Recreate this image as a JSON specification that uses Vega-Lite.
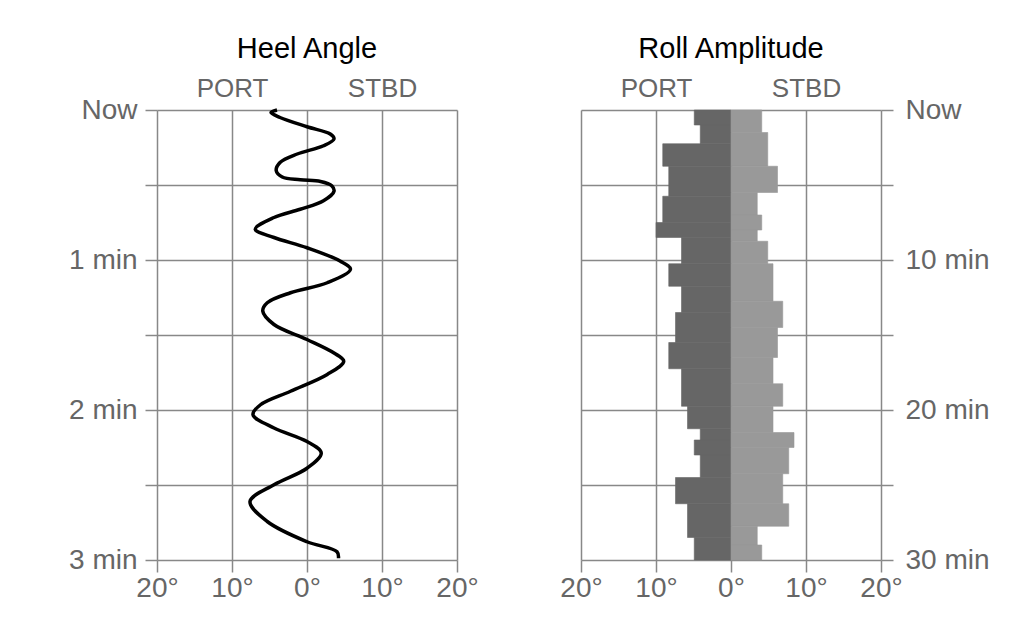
{
  "$schema": "https://vega.github.io/schema/vega-lite/v6.json",
  "background": "white",
  "padding": {"left": 68, "top": 35, "right": 10, "bottom": 10},
  "bounds": "flush",
  "spacing": 124,
  "datasets": {
    "heel": [
      {"t": 0, "angle": -4.0}, {"t": 1, "angle": -4.8}, {"t": 3, "angle": -3.6}, {"t": 6.7, "angle": 0},
      {"t": 9.6, "angle": 3.1}, {"t": 11.6, "angle": 3.6}, {"t": 14.3, "angle": 2.2}, {"t": 17.6, "angle": -1.3},
      {"t": 21, "angle": -3.6}, {"t": 24.3, "angle": -4.1}, {"t": 26.8, "angle": -3.3}, {"t": 27.9, "angle": -0.9},
      {"t": 28.6, "angle": 1.8}, {"t": 30.3, "angle": 3.3}, {"t": 32.5, "angle": 3.6}, {"t": 36.3, "angle": 2.2},
      {"t": 39.7, "angle": -0.9}, {"t": 43, "angle": -4.4}, {"t": 47.7, "angle": -6.9}, {"t": 51, "angle": -4.4},
      {"t": 55.1, "angle": 0}, {"t": 60.4, "angle": 4.4}, {"t": 63.7, "angle": 5.8}, {"t": 69.1, "angle": 2.7},
      {"t": 73.1, "angle": -2.2}, {"t": 77.1, "angle": -5.3}, {"t": 80.4, "angle": -5.9}, {"t": 85.8, "angle": -4.4},
      {"t": 91.8, "angle": 0}, {"t": 97.2, "angle": 3.6}, {"t": 100.5, "angle": 4.9}, {"t": 105.8, "angle": 2.7},
      {"t": 112.5, "angle": -2.2}, {"t": 117.9, "angle": -6.2}, {"t": 121.9, "angle": -7.2}, {"t": 127.2, "angle": -4.4},
      {"t": 132.6, "angle": 0}, {"t": 137.2, "angle": 1.9}, {"t": 143.3, "angle": 0}, {"t": 149.9, "angle": -4.4},
      {"t": 156.6, "angle": -7.6}, {"t": 164.6, "angle": -5.3}, {"t": 172.7, "angle": 0}, {"t": 176.7, "angle": 4.0},
      {"t": 179.3, "angle": 4.2}
    ],
    "port": [
      {"from": 0, "to": 1, "angle": -4.9}, {"from": 1, "to": 2.25, "angle": -4.1},
      {"from": 2.25, "to": 3.75, "angle": -9.1}, {"from": 3.75, "to": 5.75, "angle": -8.3},
      {"from": 5.75, "to": 7.5, "angle": -9.1}, {"from": 7.5, "to": 8.5, "angle": -10.0},
      {"from": 8.5, "to": 10.25, "angle": -6.6}, {"from": 10.25, "to": 11.75, "angle": -8.3},
      {"from": 11.75, "to": 13.5, "angle": -6.6}, {"from": 13.5, "to": 15.5, "angle": -7.4},
      {"from": 15.5, "to": 17.25, "angle": -8.3}, {"from": 17.25, "to": 19.75, "angle": -6.6},
      {"from": 19.75, "to": 21.25, "angle": -5.8}, {"from": 21.25, "to": 22, "angle": -4.1},
      {"from": 22, "to": 23, "angle": -4.9}, {"from": 23, "to": 24.5, "angle": -4.1},
      {"from": 24.5, "to": 26.25, "angle": -7.4}, {"from": 26.25, "to": 28.5, "angle": -5.8},
      {"from": 28.5, "to": 30, "angle": -4.9}
    ],
    "stbd": [
      {"from": 0, "to": 1.5, "angle": 4.1}, {"from": 1.5, "to": 3.75, "angle": 4.9},
      {"from": 3.75, "to": 5.5, "angle": 6.2}, {"from": 5.5, "to": 7, "angle": 3.5},
      {"from": 7, "to": 8, "angle": 4.1}, {"from": 8, "to": 8.75, "angle": 3.5},
      {"from": 8.75, "to": 10.25, "angle": 4.9}, {"from": 10.25, "to": 12.75, "angle": 5.6},
      {"from": 12.75, "to": 14.5, "angle": 6.9}, {"from": 14.5, "to": 16.5, "angle": 6.2},
      {"from": 16.5, "to": 18.25, "angle": 5.6}, {"from": 18.25, "to": 19.75, "angle": 6.9},
      {"from": 19.75, "to": 21.5, "angle": 5.6}, {"from": 21.5, "to": 22.5, "angle": 8.4},
      {"from": 22.5, "to": 24.25, "angle": 7.7}, {"from": 24.25, "to": 26.25, "angle": 6.9},
      {"from": 26.25, "to": 27.75, "angle": 7.7}, {"from": 27.75, "to": 29, "angle": 3.5},
      {"from": 29, "to": 30, "angle": 4.1}
    ]
  },
  "config": {
    "view": {"stroke": null},
    "font": "Liberation Sans",
    "axis": {
      "labelFont": "Liberation Sans",
      "labelFontSize": 28,
      "labelColor": "#666666",
      "gridColor": "#888888",
      "gridWidth": 1.5,
      "tickColor": "#888888",
      "tickWidth": 1.5,
      "tickSize": 12,
      "domain": false,
      "title": null,
      "labelFlush": false,
      "labelOverlap": false
    },
    "title": {"font": "Liberation Sans", "fontSize": 29, "fontWeight": "normal", "color": "black", "anchor": "middle", "offset": 11}
  },
  "hconcat": [
    {
      "width": 300,
      "height": 450,
      "title": "Heel Angle",
      "data": {"name": "heel"},
      "encoding": {
        "y": {
          "field": "t", "type": "quantitative",
          "scale": {"domain": [0, 180], "reverse": true, "nice": false, "zero": false},
          "axis": {"orient": "left", "values": [0, 30, 60, 90, 120, 150, 180], "grid": true, "labelPadding": 8,
            "labelExpr": "datum.value == 0 ? 'Now' : (datum.value % 60 == 0 ? (datum.value / 60) + ' min' : '')"}
        },
        "order": {"field": "t", "type": "quantitative"}
      },
      "layer": [
        {
          "mark": {"type": "line", "strokeOpacity": 0},
          "encoding": {
            "x": {
              "field": "angle", "type": "quantitative",
              "scale": {"domain": [-20, 20], "nice": false},
              "axis": {"orient": "top", "values": [-10, 10], "ticks": false, "tickSize": 0, "grid": false, "labelPadding": 9, "labelFontSize": 26,
                "labelExpr": "datum.value < 0 ? 'PORT' : 'STBD'"}
            }
          }
        },
        {
          "mark": {"type": "line", "color": "black", "strokeWidth": 3.5, "interpolate": "catmull-rom"},
          "encoding": {
            "x": {
              "field": "angle", "type": "quantitative",
              "scale": {"domain": [-20, 20], "nice": false},
              "axis": {"orient": "bottom", "values": [-20, -10, 0, 10, 20], "grid": true, "labelPadding": 2,
                "labelExpr": "abs(datum.value) + '°'"}
            }
          }
        }
      ],
      "resolve": {"axis": {"x": "independent"}}
    },
    {
      "width": 300,
      "height": 450,
      "title": "Roll Amplitude",
      "encoding": {
        "y": {
          "field": "from", "type": "quantitative",
          "scale": {"domain": [0, 30], "reverse": true, "nice": false, "zero": false},
          "axis": {"orient": "right", "values": [0, 5, 10, 15, 20, 25, 30], "grid": true, "labelPadding": 12,
            "labelExpr": "datum.value == 0 ? 'Now' : (datum.value % 10 == 0 ? datum.value + ' min' : '')"}
        },
        "y2": {"field": "to"}
      },
      "layer": [
        {
          "data": {"name": "port"},
          "mark": {"type": "rect", "color": "#666666", "stroke": "#666666", "strokeWidth": 0.6},
          "encoding": {
            "x": {
              "field": "angle", "type": "quantitative",
              "scale": {"domain": [-20, 20], "nice": false},
              "axis": {"orient": "bottom", "values": [-20, -10, 0, 10, 20], "grid": true, "labelPadding": 2,
                "labelExpr": "abs(datum.value) + '°'"}
            },
            "x2": {"datum": 0}
          }
        },
        {
          "data": {"name": "stbd"},
          "mark": {"type": "rect", "color": "#999999", "stroke": "#999999", "strokeWidth": 0.6},
          "encoding": {
            "x": {
              "field": "angle", "type": "quantitative",
              "scale": {"domain": [-20, 20], "nice": false},
              "axis": {"orient": "top", "values": [-10, 10], "ticks": false, "tickSize": 0, "grid": false, "labelPadding": 9, "labelFontSize": 26,
                "labelExpr": "datum.value < 0 ? 'PORT' : 'STBD'"}
            },
            "x2": {"datum": 0}
          }
        }
      ],
      "resolve": {"axis": {"x": "independent"}}
    }
  ]
}
